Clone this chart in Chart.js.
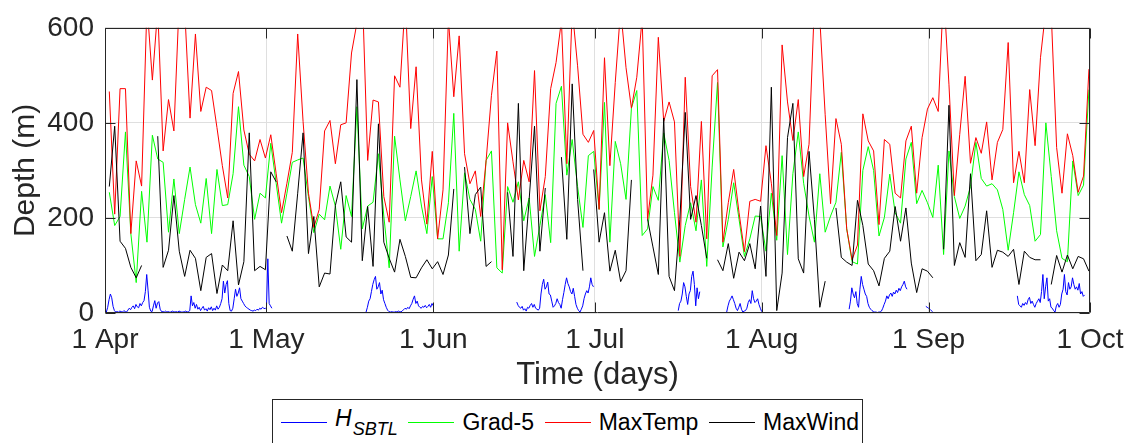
<!DOCTYPE html>
<html>
<head>
<meta charset="utf-8">
<script src="https://cdn.jsdelivr.net/npm/chart.js@4.4.0/dist/chart.umd.min.js"></script>
<style>
  body { margin: 0; background: #fff; }
  #wrap { position: relative; width: 1135px; height: 443px; overflow: hidden; }
  #legend {
    position: absolute; left: 272px; top: 399px; width: 591px; height: 50px;
    box-sizing: border-box; border: 1px solid #262626; background: #fff;
    display: flex; align-items: center; justify-content: space-between; padding: 0 3px 4px 8px;
    font-family: "Liberation Sans", Arial, sans-serif; font-size: 23px; color: #000;
  }
  #legend .item { display: flex; align-items: center; white-space: nowrap; }
  #legend .ln { display: inline-block; width: 46px; border-top: 1px solid; margin-right: 8px; }
  #legend sub { font-size: 18px; vertical-align: -9px; margin-left: 1px; }
</style>
</head>
<body>
<div id="wrap">
  <canvas id="depthChart"></canvas>
  <div id="legend">
    <span class="item"><span class="ln" style="border-color:#0000ff"></span><span><i>H</i><sub><i>SBTL</i></sub></span></span>
    <span class="item"><span class="ln" style="border-color:#00ff00"></span><span>Grad-5</span></span>
    <span class="item"><span class="ln" style="border-color:#ff0000"></span><span>MaxTemp</span></span>
    <span class="item"><span class="ln" style="border-color:#000000"></span><span>MaxWind</span></span>
  </div>
</div>
<script>
// 軸ラベル
const dayTicks = [0, 30, 61, 91, 122, 153, 183];
const dayTickLabels = ["1 Apr", "1 May", "1 Jun", "1 Jul", "1 Aug", "1 Sep", "1 Oct"];
const depthTicks = [0, 200, 400, 600];

// 日別データ (1 Apr から, 1日ごと)
const maxTemp = [
  466, 208, 472, 472, 167, 320, 267, 650, 490, 640, 341, 449, 383, 660, 640, 410, 587, 424, 475, 468,
  390, 310, 242, 462, 508, 385, 334, 320, 365, 326, 375, 293, 211, 273, 338, 587, 403, 252, 180, 218,
  383, 405, 314, 396, 400, 547, 610, 680, 321, 448, 444, 245, 191, 499, 475, 660, 388, 518, 280, 187,
  340, 156, 259, 620, 455, 583, 335, 272, 299, 203, 320, 458, 551, 91, 400, 318, 238, 321, 276, 510,
  215, 287, 472, 527, 615, 314, 640, 520, 376, 359, 384, 218, 537, 310, 485, 640, 516, 431, 496, 620,
  197, 290, 580, 403, 444, 402, 119, 496, 266, 191, 403, 156, 499, 512, 149, 232, 302, 211, 129, 235,
  239, 235, 352, 273, 163, 564, 444, 363, 449, 287, 355, 650, 620, 417, 230, 409, 355, 177, 112, 143,
  419, 362, 341, 186, 365, 355, 252, 242, 362, 393, 252, 369, 429, 453, 424, 680, 480, 247, 376, 498,
  315, 369, 336, 402, 280, 359, 386, 569, 274, 340, 274, 470, 352, 537, 640, 630, 348, 252, 377, 331,
  254, 288, 513
];
const grad5 = [
  254, 184, 203, 381, 167, 64, 256, 149, 374, 324, 317, 170, 282, 167, 239, 307, 228, 189, 283, 167,
  302, 226, 228, 293, 434, 311, 287, 197, 252, 242, 357, 273, 189, 252, 317, 322, 326, 245, 169, 208,
  196, 267, 225, 134, 247, 203, 434, 177, 225, 233, 335, 204, 95, 372, 280, 194, 245, 299, 225, 167,
  287, 156, 156, 232, 420, 130, 295, 239, 218, 151, 321, 341, 95, 84, 266, 233, 276, 194, 242, 119,
  184, 249, 148, 441, 477, 290, 365, 266, 180, 331, 340, 218, 443, 149, 361, 314, 239, 431, 468, 163,
  177, 266, 237, 379, 321, 211, 107, 184, 232, 173, 280, 98, 307, 485, 139, 197, 274, 197, 119, 156,
  204, 203, 130, 252, 153, 331, 123, 293, 381, 273, 204, 149, 293, 170, 204, 233, 338, 177, 108, 103,
  300, 350, 300, 162, 201, 292, 211, 189, 324, 359, 230, 258, 232, 201, 311, 123, 341, 245, 199, 225,
  266, 359, 283, 267, 272, 259, 218, 132, 211, 297, 249, 226, 151, 165, 400, 287, 173, 115, 108, 320,
  247, 269, 470
];
const maxWind = [
  266, 393, 151, 136, 96, 74, 100, null, null, 372, 96, 132, 247, 130, 77, 132, 115, 47, 117, 125,
  41, 101, 89, 194, 59, 108, 379, 89, 98, 91, 297, 276, null, 162, 130, 252, 379, 125, 203, 55,
  84, 82, 226, 276, 160, 149, 491, 110, 224, 98, 398, 149, 115, 86, 155, 119, 75, 74, 95, 112,
  93, 108, 81, 122, 261, null, 307, 167, 249, 265, 98, 108, null, null, 254, 119, 441, 89, 239, 393,
  130, 263, null, null, 328, 155, 482, 239, 89, null, 302, 149, 211, 88, 132, 66, 89, 280, null, null,
  197, 139, 81, 410, 77, 47, 197, 422, 197, 247, 184, 115, null, 112, 89, 146, 73, 128, 110, 146,
  93, 225, 77, 475, 5, 84, 369, 441, 114, 84, 340, 197, 12, 67, null, 221, 117, 107, 100, 237,
  184, 103, 89, 57, 115, 130, 224, 151, 221, 105, 43, 93, 88, 74, null, 134, 437, 100, 148, 117,
  293, 110, 123, 215, 96, 132, 128, 119, 134, 60, 130, 117, 112, 112, null, 60, 121, 86, 122, 93,
  119, 114, 88
];

// H_SBTL: 6時間ごと, 区間ごとの開始日
const hsbtlStep = 0.25;
const hsbtlStarts = [0.25, 48.5, 76.5, 106.5, 115.5, 138.25, 152.5, 169.5];
const hsbtlSegments = [
  [2, 12, 28, 40, 32, 14, 5, 2, 3, 2, 4, 3, 2, 5, 3, 2, 6, 10, 7, 12, 15, 9, 18, 13, 11, 20, 15, 22,
   26, 45, 81, 48, 12, 4, 3, 15, 26, 10, 21, 24, 8, 3, 3, 2, 4, 2, 3, 2, 2, 4, 3, 2, 3, 2, 4, 3, 2, 2,
   3, 4, 2, 3, 5, 36, 15, 22, 10, 18, 8, 12, 5, 10, 14, 6, 9, 4, 11, 7, 13, 5, 10, 6, 15, 8, 12, 20, 30,
   67, 42, 60, 68, 20, 5, 4, 10, 30, 50, 35, 42, 53, 30, 25, 20, 15, 12, 10, 8, 6, 5, 4, 6, 5, 8, 6,
   10, 8, 12, 10, 9, 12, 114, 20, 15, 10],
  [2, 12, 25, 30, 45, 60, 70, 77, 50, 55, 64, 40, 48, 28, 20, 12, 6, 3, 2, 3, 2, 2, 3, 2, 4, 3, 2, 5,
   7, 10, 8, 12, 9, 15, 20, 29, 36, 20, 25, 15, 12, 10, 14, 12, 16, 11, 14, 18, 12, 20, 15],
  [23, 16, 12, 10, 14, 6, 9, 4, 12, 10, 16, 20, 12, 18, 10, 8, 6, 10, 40, 60, 71, 50, 55, 65, 40, 38,
   25, 12, 15, 20, 30, 22, 18, 10, 28, 43, 60, 74, 62, 55, 45, 40, 52, 35, 18, 10, 5, 2, 8, 15, 30,
   40, 47, 42, 55, 74, 60, 55],
  [5, 20, 25, 40, 64, 55, 35, 18, 40, 47, 77, 88, 60, 15, 53, 30, 45],
  [2, 15, 25, 30, 36, 28, 20, 10, 5, 12, 20, 8, 2, 4, 5, 10, 22, 28, 20, 47, 30, 22, 25, 30, 18, 10, 3],
  [8, 25, 53, 40, 32, 45, 20, 12, 50, 77, 60, 50, 40, 35, 20, 12, 8, 5, 3, 2, 2, 1, 2, 2, 4, 10, 18,
   25, 36, 30, 38, 42, 35, 44, 40, 48, 43, 52, 47, 55, 60, 67, 55, 50],
  [14, 12, 10, 8, 5, 3],
  [36, 18, 15, 12, 20, 16, 22, 18, 28, 33, 20, 25, 18, 12, 20, 25, 30, 22, 45, 81, 30, 55, 74, 25,
   30, 12, 10, 5, 2, 15, 20, 12, 18, 40, 50, 81, 45, 38, 64, 50, 55, 74, 60, 50, 55, 48, 62, 40, 45,
   35, 38]
];

const dailyOffset = 0.8;
const daily = arr => arr.map((v, i) => ({ x: i + dailyOffset, y: v }));

const hsbtl = [];
hsbtlStarts.forEach((start, k) => {
  const seg = hsbtlSegments[k];
  seg.forEach((v, j) => hsbtl.push({ x: start + j * hsbtlStep, y: v }));
  hsbtl.push({ x: start + seg.length * hsbtlStep, y: null }); // 区間の切れ目
});

const ink = "#262626";
const fontFamily = '"Liberation Sans", Arial, Helvetica, sans-serif';
Chart.defaults.font.family = fontFamily;

// MATLAB風の枠と内向きの目盛り
const axesBox = {
  id: "axesBox",
  afterDraw(chart) {
    const { ctx, chartArea: a, scales: { x, y } } = chart;
    const L = Math.round(a.left) + 0.5, R = Math.round(a.right) - 0.5;
    const T = Math.round(a.top) + 0.5, B = Math.round(a.bottom) - 0.5;
    ctx.save();
    ctx.strokeStyle = ink;
    ctx.lineWidth = 1;
    ctx.beginPath();
    ctx.rect(L, T, R - L, B - T);
    dayTicks.forEach(d => {
      const px = Math.round(x.getPixelForValue(d)) + 0.5;
      ctx.moveTo(px, B); ctx.lineTo(px, B - 10);
      ctx.moveTo(px, T); ctx.lineTo(px, T + 10);
    });
    depthTicks.forEach(v => {
      const py = Math.round(y.getPixelForValue(v)) + 0.5;
      ctx.moveTo(L, py); ctx.lineTo(L + 10, py);
      ctx.moveTo(R, py); ctx.lineTo(R - 10, py);
    });
    ctx.stroke();
    ctx.restore();
  }
};

const lineStyle = { borderWidth: 1, pointRadius: 0, tension: 0, fill: false, spanGaps: false };

new Chart(document.getElementById("depthChart").getContext("2d"), {
  type: "line",
  data: {
    datasets: [
      { label: "H_SBTL", data: hsbtl, borderColor: "#0000ff", order: 3, ...lineStyle },
      { label: "Grad-5", data: daily(grad5), borderColor: "#00ff00", order: 2, ...lineStyle },
      { label: "MaxTemp", data: daily(maxTemp), borderColor: "#ff0000", order: 1, ...lineStyle },
      { label: "MaxWind", data: daily(maxWind), borderColor: "#000000", order: 0, ...lineStyle }
    ]
  },
  options: {
    responsive: true,
    maintainAspectRatio: false,
    animation: false,
    layout: { padding: { top: 21, right: 45, bottom: 45, left: 0 } },
    plugins: { legend: { display: false }, tooltip: { enabled: false } },
    scales: {
      x: {
        type: "linear",
        min: 0,
        max: 183,
        afterBuildTicks: s => { s.ticks = dayTicks.map(v => ({ value: v })); },
        afterFit: s => { s.height = 85; },
        grid: { color: "#dfdfdf", drawTicks: false },
        border: { display: false },
        ticks: {
          autoSkip: false, maxRotation: 0, padding: 10, color: ink,
          font: { size: 28 },
          callback: v => dayTickLabels[dayTicks.indexOf(v)]
        },
        title: { display: true, text: "Time (days)", color: ink, font: { size: 31 }, padding: { top: 0, bottom: 4 } }
      },
      y: {
        min: 0,
        max: 600,
        afterBuildTicks: s => { s.ticks = depthTicks.map(v => ({ value: v })); },
        afterFit: s => { s.width = 105; },
        grid: { color: "#dfdfdf", drawTicks: false },
        border: { display: false },
        ticks: { padding: 11, color: ink, font: { size: 28 } },
        title: { display: true, text: "Depth (m)", color: ink, font: { size: 30 }, padding: { top: 8, bottom: 0 } }
      }
    }
  },
  plugins: [axesBox]
});
</script>
</body>
</html>
